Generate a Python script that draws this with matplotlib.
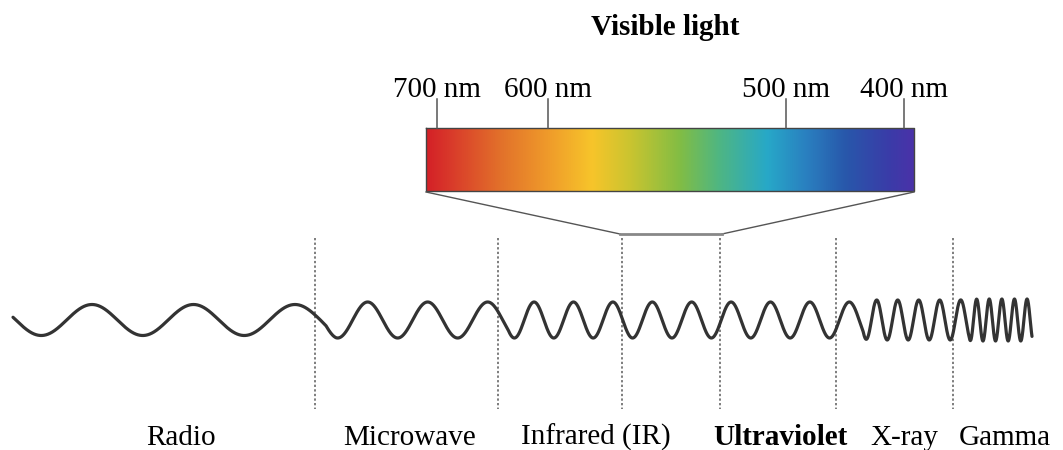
import numpy as np
import matplotlib
matplotlib.use("Agg")
import matplotlib.pyplot as plt
from matplotlib.colors import LinearSegmentedColormap

# ---- data -------------------------------------------------------------
band_labels = ["Radio", "Microwave", "Infrared (IR)", "Ultraviolet", "X-ray", "Gamma"]
band_label_x = [181, 410, 596, 780, 904, 1005]
band_bold = [False, False, False, True, False, False]
band_boundaries = [315, 498, 622, 720, 836, 953]

# wave segments (pixel space): edges, period, amplitude
wave_edges = [13, 326, 508, 863, 969, 1032]
wave_periods = [101.5, 60, 39.4, 21, 12.6]
wave_amps = [15.5, 18, 18, 20, 21]
wave_first_crest = 92

nm_labels = ["700 nm", "600 nm", "500 nm", "400 nm"]
nm_tick_x = [437, 548, 786, 904]

spectrum_colors = ["#d42027", "#d8352a", "#e2702a", "#ef9b2a", "#f7c52a", "#c9c430",
                   "#82bd44", "#4fb682", "#27a8c8", "#2a80c0", "#2858ab", "#3a3ca8", "#4a32a8"]
spectrum_stops = [0.0, 0.04, 0.15, 0.25, 0.34, 0.42, 0.52, 0.60, 0.70, 0.78, 0.86, 0.95, 1.0]

title = "Visible light"

# ---- figure ------------------------------------------------------------
W, H = 1063, 450
fig = plt.figure(figsize=(W / 100, H / 100), dpi=100)
ax = fig.add_axes([0, 0, 1, 1])
serif = ["Liberation Serif", "DejaVu Serif"]

# spectrum bar
bx0, bx1, by0, by1 = 426, 914, 128, 191
cmap = LinearSegmentedColormap.from_list("vis", list(zip(spectrum_stops, spectrum_colors)))
grad = np.linspace(0, 1, 512)[None, :]
ax.imshow(grad, cmap=cmap, aspect="auto", extent=(bx0, bx1, by1, by0), zorder=1,
          interpolation="bilinear")
ax.plot([bx0, bx1, bx1, bx0, bx0], [by0, by0, by1, by1, by0], color="#444444", lw=1.0, zorder=2)

# ticks and nm labels
for lab, tx in zip(nm_labels, nm_tick_x):
    ax.plot([tx, tx], [99, by0], color="#555555", lw=1.1, zorder=2)
    ax.text(tx, 97, lab, ha="center", va="baseline", fontsize=21, family=serif, color="black")

ax.text(665, 35, title, ha="center", va="baseline", fontsize=21, family=serif,
        fontweight="bold", color="black")

# funnel lines
vl, vr = band_boundaries[2], band_boundaries[3]
ax.plot([bx0, vl - 2], [by1 + 1, 234], color="#555555", lw=1.0, zorder=2)
ax.plot([bx1, vr + 2], [by1 + 1, 234], color="#555555", lw=1.0, zorder=2)
ax.plot([vl - 2, vr + 2], [234, 234], color="#888888", lw=2.0, zorder=2)

# dashed boundaries
for bx in band_boundaries:
    ax.plot([bx, bx], [238, 409], color="#5a5a5a", lw=1.1, linestyle=(0, (1.5, 1.5)), zorder=2)

# wave
x = np.linspace(wave_edges[0], wave_edges[-1], 6000)
seg = np.clip(np.searchsorted(wave_edges, x, side="right") - 1, 0, len(wave_periods) - 1)
freq = 1.0 / np.array(wave_periods)[seg]
cyc = np.concatenate([[0], np.cumsum(0.5 * (freq[1:] + freq[:-1]) * np.diff(x))])
cyc -= np.interp(wave_first_crest, x, cyc)
amp = np.array(wave_amps, dtype=float)[seg]
k = 120  # smooth amplitude steps over ~20 px
kern = np.ones(k) / k
amp = np.convolve(np.pad(amp, (k // 2, k - k // 2 - 1), mode="edge"), kern, mode="valid")
y = 320 - amp * np.cos(2 * np.pi * cyc)
ax.plot(x, y, color="#333333", lw=2.3, solid_capstyle="round", zorder=3)

# band labels
for lab, lx, b in zip(band_labels, band_label_x, band_bold):
    ax.text(lx, 445, lab, ha="center", va="baseline", fontsize=21, family=serif,
            fontweight="bold" if b else "normal", color="black")

ax.set_xlim(0, W)
ax.set_ylim(H, 0)
ax.axis("off")
fig.savefig("out.png", dpi=100)
